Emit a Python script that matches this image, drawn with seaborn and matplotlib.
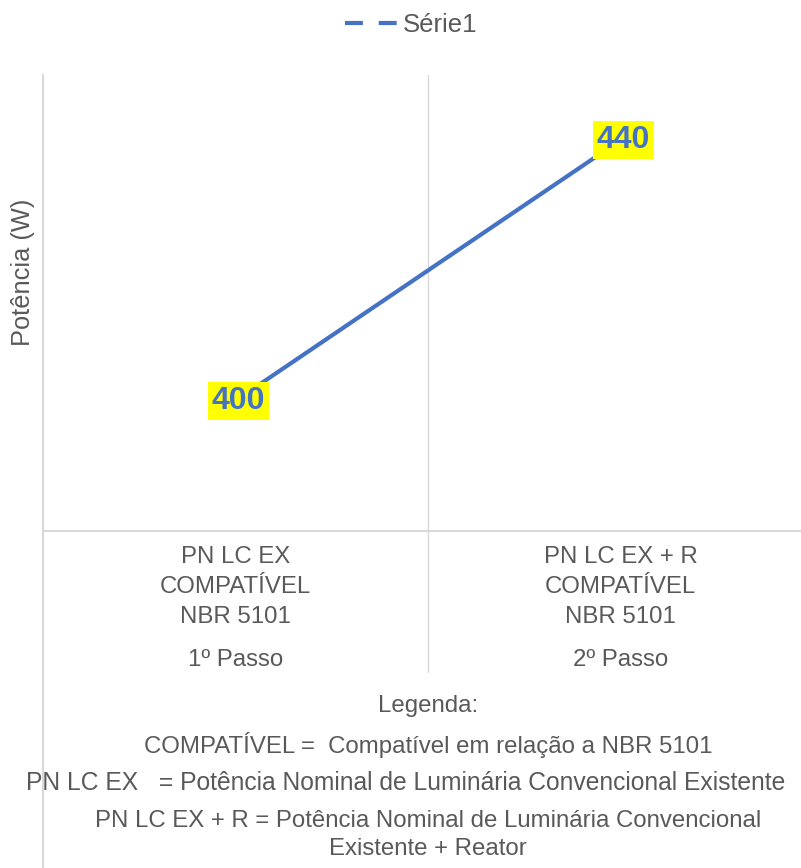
import matplotlib
matplotlib.use("Agg")
import matplotlib.pyplot as plt
from matplotlib.lines import Line2D
import pandas as pd
import seaborn as sns

categories = ["PN LC EX\nCOMPATÍVEL\nNBR 5101", "PN LC EX + R\nCOMPATÍVEL\nNBR 5101"]
steps = ["1º Passo", "2º Passo"]
values = [400, 440]
series_name = "Série1"
legend_lines = [
    "Legenda:",
    "COMPATÍVEL =  Compatível em relação a NBR 5101",
    "PN LC EX   = Potência Nominal de Luminária Convencional Existente",
    "PN LC EX + R = Potência Nominal de Luminária Convencional\nExistente + Reator",
]

df = pd.DataFrame({"pos": range(len(values)), "valor": values})

sns.set_theme(style="white")
plt.rcParams["font.family"] = ["Liberation Sans", "DejaVu Sans"]

blue = "#4472C4"
grey = "#595959"
grid = "#D9D9D9"
W, H = 801, 868
fs = 17.3

fig = plt.figure(figsize=(W / 100, H / 100), dpi=100)
# the chart area runs a little past the right edge of the image
ax = fig.add_axes([43 / W, 1 - 531 / H, (813 - 43) / W, (531 - 75) / H])

sns.lineplot(data=df, x="pos", y="valor", color=blue, linewidth=3, ax=ax, legend=False)
ax.set_xlim(-0.5, 1.5)
ax.set_ylim(380, 450)

for s in ["top", "right", "left"]:
    ax.spines[s].set_visible(False)
ax.spines["bottom"].set_color(grid)
ax.spines["bottom"].set_linewidth(1.5)
ax.set_yticks([])
ax.set_xticks([])
ax.set_xlabel("")
ax.set_ylabel("")
fig.text(23 / W, 1 - 272 / H, "Potência (W)", rotation=90, ha="center", va="center",
         fontsize=18.3, color=grey)

# category separator and left border
ax.axvline(0.5, ymin=(531 - 672) / 456, ymax=1, color=grid, lw=1, clip_on=False, zorder=0)
fig.add_artist(Line2D([43 / W, 43 / W], [0, 1 - 75 / H], color=grid, lw=1.5))

for i, v in enumerate(values):
    ax.text(i + 0.008, v, str(v), ha="center", va="center", fontsize=23, fontweight="bold",
            color=blue, zorder=5,
            bbox=dict(boxstyle="square,pad=0.12", facecolor="#FFFF00", edgecolor="none"))

for i, (c, s) in enumerate(zip(categories, steps)):
    ax.text(i, (531 - 587) / 456, c, transform=ax.get_xaxis_transform(), ha="center",
            va="center", fontsize=fs, color=grey, linespacing=1.48, clip_on=False)
    ax.text(i, (531 - 660) / 456, s, transform=ax.get_xaxis_transform(), ha="center",
            va="center", fontsize=fs, color=grey, clip_on=False)

ys = [706, 745, 783, 835]
xs = [428, 428, 406, 428]
for t, y, x in zip(legend_lines, ys, xs):
    fs_line = 17.7 if x == 406 else fs
    fig.text(x / W, 1 - y / H, t, ha="center", va="center", fontsize=fs_line, color=grey,
             linespacing=1.4)

handle = Line2D([0], [0], color=blue, lw=3, ls=(0, (4.3, 3.8)))
fig.legend(handles=[handle], labels=[series_name], loc="center", bbox_to_anchor=(411 / W, 1 - 25 / H),
           frameon=False, fontsize=18.5, labelcolor=grey, handlelength=2.06, handletextpad=0.2)

fig.savefig("out.png", dpi=100)
